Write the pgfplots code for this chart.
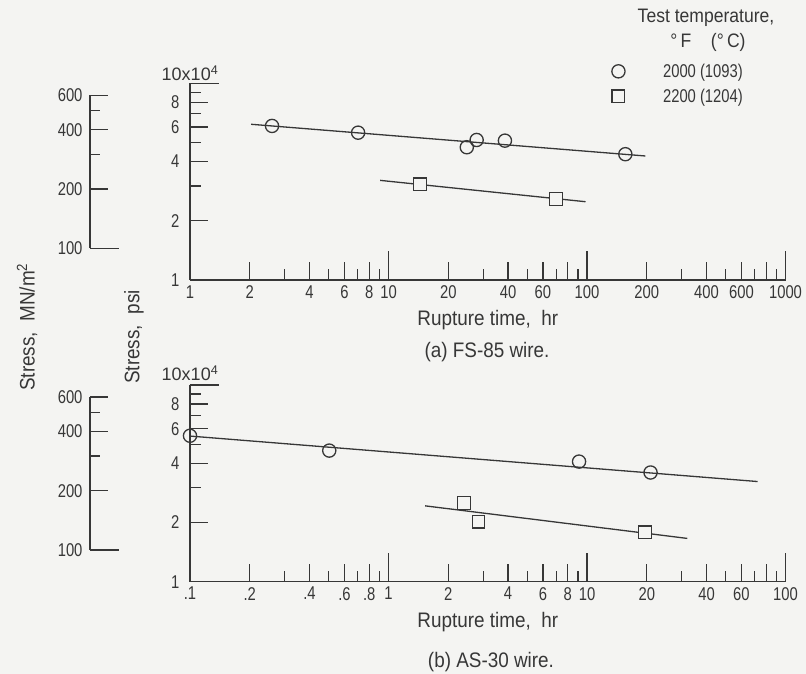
\documentclass[border=0pt]{standalone}
\usepackage{pgfplots}
\pgfplotsset{compat=1.18}
\usepackage{fontspec}
\setmainfont{Liberation Sans}[FakeStretch=0.9]
\newfontfamily\numfont{Liberation Sans}[FakeStretch=0.8]
\newfontfamily\widefont{Liberation Sans}
\definecolor{ink}{RGB}{55,55,55}
\definecolor{paper}{RGB}{244,244,242}
\newcommand{\txt}{\fontsize{21}{24}\selectfont}
\newcommand{\nfont}{\numfont\fontsize{18.5}{21}\selectfont}

% rupture data, stress in units of 10^4 psi
\pgfplotstableread{
t s
2.59 6.07
7.03 5.61
24.8 4.73
27.8 5.15
38.6 5.11
156 4.36
}\fsA
\pgfplotstableread{
t s
14.4 3.07
69.7 2.58
}\fsB
\pgfplotstableread{
t s
0.1 5.52
0.503 4.64
9.12 4.08
20.9 3.59
}\asA
\pgfplotstableread{
t s
2.40 2.51
2.84 2.02
19.6 1.78
}\asB

\pgfplotsset{
  psiaxis/.style={
    scale only axis, width=595.5pt, height=196.7pt,
    ymin=1, ymax=10,
    axis lines*=left,
    axis line style={ink, line width=1.3pt},
    every tick/.style={ink, line width=1.3pt},
    tick align=inside,
    major tick length=18pt, minor tick length=11pt,
    extra tick style={major tick length=29pt},
    tick label style={font=\nfont, text=ink},
    ytick={1,2,4,6,8}, yticklabels={1,2,4,6,8},
    minor ytick={3,5,7,9},
    extra y ticks={10}, extra y tick labels={},
    yticklabel style={xshift=-7pt},
    xticklabel style={yshift=-2pt},
    xlabel={Rupture time,\ \ hr},
    xlabel style={font=\txt, text=ink, at={(axis description cs:0.5,0)}, anchor=center, yshift=-40pt},
    clip=false,
  },
  mnaxis/.style={
    scale only axis, width=20pt, height=196.7pt,
    xmin=0, xmax=1, ymin=68.9476, ymax=689.476,
    axis x line=none, axis y line*=left, y axis line style={draw=none},
    every tick/.style={ink, line width=1.3pt},
    tick align=inside,
    major tick length=18pt, minor tick length=10pt,
    tick label style={font=\nfont, text=ink},
    ytick={200,400,600}, yticklabels={200,400,600},
    minor ytick={300,500},
    extra y ticks={100}, extra y tick labels={100},
    extra tick style={major tick length=29pt},
    yticklabel style={xshift=-4pt},
    clip=false,
  },
  fitline/.style={ink, line width=1.3pt, no markers},
  circ/.style={only marks, mark=o, mark size=6.6pt, mark options={ink, fill=paper, line width=1.3pt}},
  sq/.style={only marks, mark=square*, mark size=6.3pt, mark options={draw=ink, fill=paper, line width=1.3pt}},
}

\begin{document}
\begin{tikzpicture}
\fill[paper] (0,0) rectangle (806pt,674pt);
\useasboundingbox (0,0) rectangle (806pt,674pt);

% ---- (a) FS-85 wire
\begin{semilogyaxis}[mnaxis, at={(90pt,394pt)}, anchor=south west]
\addplot[ink, line width=1.3pt] coordinates {(0,100) (0,600)};
\end{semilogyaxis}
\begin{loglogaxis}[psiaxis, at={(190pt,394pt)}, anchor=south west,
  xmin=1, xmax=1000,
  xtick={1,2,4,6,8,20,40,60,80,200,400,600,800},
  xticklabels={1,2,4,6,8,20,40,60,,200,400,600,},
  minor xtick={3,5,7,9,30,50,70,90,300,500,700,900},
  extra x ticks={10,100,1000}, extra x tick labels={10,100,1000},
  legend style={at={(axis description cs:0.703,1.12)}, anchor=north west,
    draw=none, fill=none, font=\nfont, text=ink, column sep=36pt, row sep=6pt,
    nodes={inner sep=2pt}},
]
\addlegendimage{circ}\addlegendentry{2000 (1093)}
\addlegendimage{sq}\addlegendentry{2200 (1204)}
\addplot[fitline, forget plot] coordinates {(2.03,6.19) (197,4.27)};
\addplot[fitline, forget plot] coordinates {(9.08,3.21) (98.3,2.50)};
\addplot[circ, forget plot] table[x=t, y=s] {\fsA};
\addplot[sq, forget plot] table[x=t, y=s] {\fsB};
\end{loglogaxis}

% ---- (b) AS-30 wire
\begin{semilogyaxis}[mnaxis, at={(90pt,92.3pt)}, anchor=south west]
\addplot[ink, line width=1.3pt] coordinates {(0,100) (0,600)};
\end{semilogyaxis}
\begin{loglogaxis}[psiaxis, at={(190pt,92.3pt)}, anchor=south west,
  xmin=0.1, xmax=100,
  xtick={0.1,0.2,0.4,0.6,0.8,2,4,6,8,20,40,60,80},
  xticklabels={.1,.2,.4,.6,.8,2,4,6,8,20,40,60,},
  minor xtick={0.3,0.5,0.7,0.9,3,5,7,9,30,50,70,90},
  extra x ticks={1,10,100}, extra x tick labels={1,10,100},
]
\addplot[fitline] coordinates {(0.1,5.5) (72.4,3.23)};
\addplot[fitline] coordinates {(1.53,2.43) (32.0,1.66)};
\addplot[circ] table[x=t, y=s] {\asA};
\addplot[sq] table[x=t, y=s] {\asB};
\end{loglogaxis}

% ---- labels
\begin{scope}[every node/.style={text=ink}]
\node[font=\widefont\fontsize{18}{21}\selectfont] at (190pt,601pt) {10x10\textsuperscript{4}};
\node[font=\widefont\fontsize{18}{21}\selectfont] at (190pt,301pt) {10x10\textsuperscript{4}};
\node[font=\txt, rotate=90] at (27pt,347pt) {Stress,\ \ MN/m\textsuperscript{2}};
\node[font=\txt, rotate=90] at (134pt,337pt) {Stress,\ \ psi};
\node[font=\txt] at (487pt,322pt) {(a) FS-85 wire.};
\node[font=\txt] at (491pt,12pt) {(b) AS-30 wire.};
\node[font=\fontsize{19.5}{22}\selectfont] at (706pt,656pt) {Test temperature,};
\node[font=\fontsize{19.5}{22}\selectfont] at (708pt,632pt) {°\,F\quad(°\,C)};
\end{scope}
\end{tikzpicture}
\end{document}
